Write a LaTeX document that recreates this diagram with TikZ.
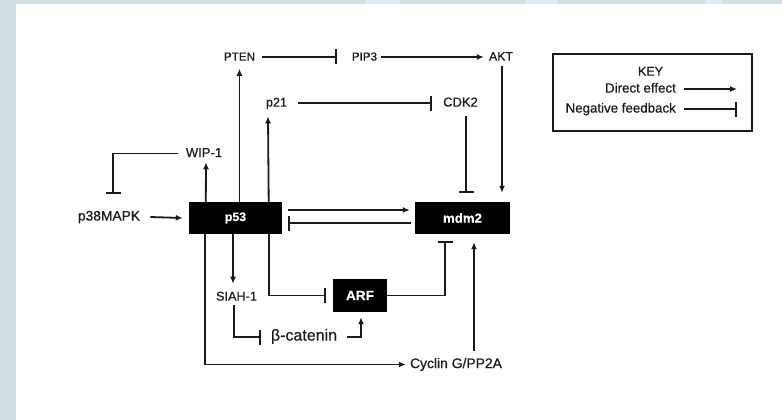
\documentclass[tikz,border=0pt]{standalone}
\usepackage{fontspec}
\setmainfont[FakeBold=0.6]{Liberation Sans}
\newfontfamily\boldbox[FakeBold=0.4]{Liberation Sans Bold}
\usetikzlibrary{arrows.meta,calc}
\newcommand\myfs[1]{\fontsize{#1}{#1}\selectfont}
\definecolor{bgc}{HTML}{D2DDE4}
\definecolor{bgl}{HTML}{E3EAEF}
\definecolor{ink}{HTML}{1A1A1A}
\begin{document}
\begin{tikzpicture}[x=1pt,y=-1pt,
  lbl/.style={inner sep=0pt, text height=0.716em, text depth=0pt, text=ink},
  box/.style={fill=black, text=white, inner sep=0pt, font=\boldbox},
  act/.style={line width=1.8pt, draw=ink, -{Latex[length=7pt,width=6pt]}},
  inh/.style={line width=1.8pt, draw=ink, -{Bar[width=15pt]}},
  ln/.style={line width=1.8pt}]
\fill[white] (0,0) rectangle (782,420);
\fill[bgc] (0,0) rectangle (16,420);
\fill[bgc] (0,0) rectangle (782,4);
\fill[bgl] (365,0) rectangle (400,4);
\fill[bgl] (525,0) rectangle (557,4);
\fill[bgl] (705,0) rectangle (722,4);
\useasboundingbox (0,0) rectangle (782,420);

% nodes
\node[lbl, font=\myfs{11.6}] (pten) at (239.5,57) {PTEN};
\node[lbl, font=\myfs{11.6}] (pip3) at (364.5,57) {PIP3};
\node[lbl, font=\myfs{12.3}] (akt) at (501,57) {AKT};
\node[lbl, font=\myfs{12.6}] (p21) at (276.5,103) {p21};
\node[lbl, font=\myfs{13}] (cdk2) at (460.5,103) {CDK2};
\node[lbl, font=\myfs{13}] (wip) at (204,153.5) {WIP-1};
\node[lbl, font=\myfs{13.8}] (p38) at (109,217) {p38MAPK};
\node[box, minimum width=93pt, minimum height=32pt] (p53) at (235.5,218) {\myfs{12.3}p53};
\node[box, minimum width=95pt, minimum height=32pt] (mdm2) at (462.5,218) {\myfs{13.2}mdm2};
\node[box, minimum width=54pt, minimum height=33pt] (arf) at (360,295.5) {\myfs{13.6}ARF};
\node[lbl, font=\myfs{12.7}] (siah) at (236.5,297) {SIAH-1};
\node[lbl, font=\myfs{16}] (bcat) at (304,337) {β-catenin};
\node[lbl, font=\myfs{13.9}] (cyc) at (456,364.5) {Cyclin G/PP2A};

% key
\node[draw=ink, line width=1.8pt, minimum width=199pt, minimum height=77pt, inner sep=0pt] (key) at (652.5,92.5) {};
\node[lbl, font=\myfs{12.5}] (keyt) at (650.5,72) {KEY};
\node[lbl, anchor=east, font=\myfs{13.3}] (de) at (676,89) {Direct effect};
\node[lbl, anchor=east, font=\myfs{13.3}] (nf) at (676,109) {Negative feedback};
\draw[act] ($(de.east)+(8,0)$) -- ++(53,0);
\draw[inh] ($(nf.east)+(8,0)$) -- ++(53,0);

% connectors
\draw[inh] ($(pten.east)+(7,0)$) -- ($(pip3.west)+(-15,0)$);
\draw[act] ($(pip3.east)+(4,0)$) -- ($(akt.west)+(-5,0)$);
\draw[act] (p53.north -| pten) -- ($(pten.south)+(0,8)$);
\draw[act] ($(p53.north east)+(-13.5,0)$) -- ($(p21.south)+(-8.5,9.5)$);
\draw[act] ($(p53.north west)+(17,0)$) -- ($(wip.south)+(2,5)$);
\draw[inh] ($(wip.west)+(-8,0)$) -| ($(p38.north)+(4,-19)$);
\draw[act] ($(p38.east)+(10,0)$) -- ($(p53.west)+(-6,0)$);
\draw[act] ($(p53.east)+(6,-8)$) -- ($(mdm2.west)+(-5,-8)$);
\draw[inh] ($(mdm2.west)+(-4,5)$) -- ($(p53.east)+(6,5)$);
\draw[inh] ($(p21.east)+(11,0)$) -- ($(cdk2.west)+(-11,0)$);
\draw[inh] ($(cdk2.south)+(5.5,9.5)$) -- ($(mdm2.north)+(3.5,-9)$);
\draw[act] ($(akt.south)+(1,5.6)$) -- ($(mdm2.north)+(39.5,-9)$);
\draw[act] ($(p53.south)+(-2.5,0)$) -- ($(siah.north)+(-3.5,-9.5)$);
\draw[inh] ($(p53.south east)+(-13,0)$) |- ($(arf.west)+(-7,0)$);
\draw[inh] (arf.east) -| ($(mdm2.south)+(-17.5,7)$);
\draw[inh] ($(siah.south)+(-2.5,4)$) |- ($(bcat.west)+(-10,0)$);
\draw[act] ($(bcat.east)+(10,0)$) -| ($(arf.south)+(1,5)$);
\draw[act] ($(p53.south west)+(16.5,0)$) |- ($(cyc.west)+(-4,0)$);
\draw[act] ($(cyc.north)+(18,-9.5)$) -- ($(mdm2.south)+(11.5,8)$);
\end{tikzpicture}
\end{document}
